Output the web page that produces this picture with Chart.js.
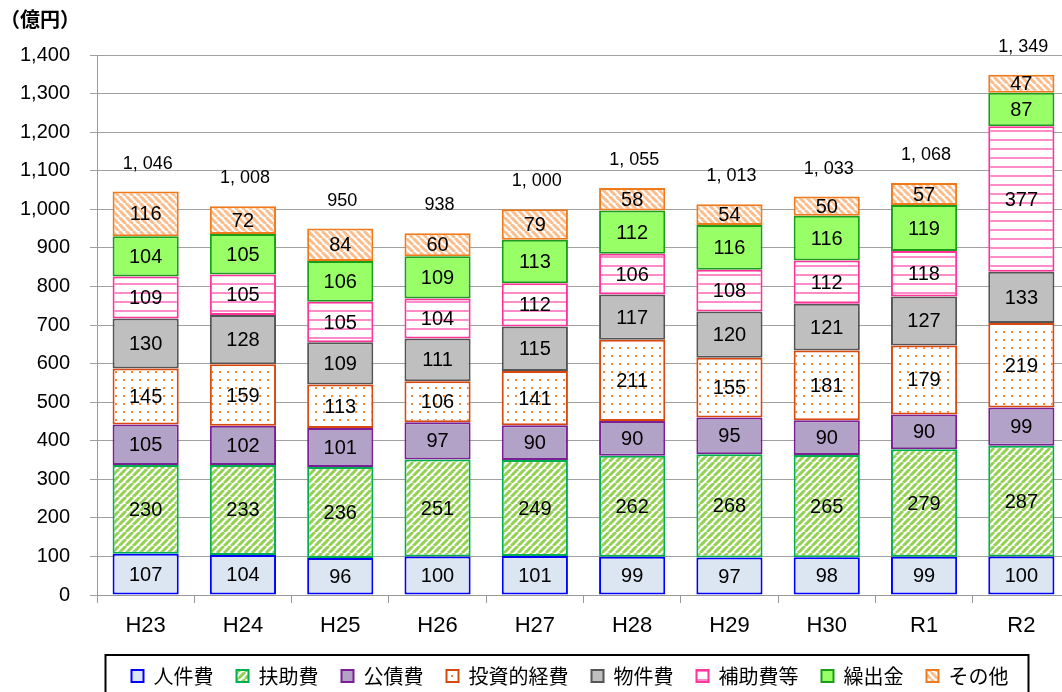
<!DOCTYPE html>
<html>
<head>
<meta charset="utf-8">
<script src="https://cdn.jsdelivr.net/npm/chart.js@4"></script>
<style>
	html, body { margin: 0; padding: 0; background: #fff; overflow: hidden; }
	#wrap { width: 1080px; height: 692px; }
</style>
</head>
<body>
<div id="wrap"><canvas id="chart" width="1080" height="692"></canvas></div>
<script>
const categories = ['H23', 'H24', 'H25', 'H26', 'H27', 'H28', 'H29', 'H30', 'R1', 'R2'];
const personnel = [107, 104, 96, 100, 101, 99, 97, 98, 99, 100];
const assistance = [230, 233, 236, 251, 249, 262, 268, 265, 279, 287];
const debt = [105, 102, 101, 97, 90, 90, 95, 90, 90, 99];
const investment = [145, 159, 113, 106, 141, 211, 155, 181, 179, 219];
const goods = [130, 128, 109, 111, 115, 117, 120, 121, 127, 133];
const subsidies = [109, 105, 105, 104, 112, 106, 108, 112, 118, 377];
const transfers = [104, 105, 106, 109, 113, 112, 116, 116, 119, 87];
const other = [116, 72, 84, 60, 79, 58, 54, 50, 57, 47];
const totals = [1046, 1008, 950, 938, 1000, 1055, 1013, 1033, 1068, 1349];

const canvas = document.getElementById('chart');
const ctx = canvas.getContext('2d');

const makePattern = (w, h, draw) => {
	const c = document.createElement('canvas');
	c.width = w;
	c.height = h;
	const p = c.getContext('2d');
	p.fillStyle = '#fff';
	p.fillRect(0, 0, w, h);
	draw(p, w, h);
	return ctx.createPattern(c, 'repeat');
};

const stripes = (color, dir) => makePattern(7, 7, (p, s) => {
	p.strokeStyle = color;
	p.lineWidth = 3;
	p.beginPath();
	for (let k = -1; k <= 1; k++) {
		if (dir > 0) {
			p.moveTo(k * s, s);
			p.lineTo(k * s + s, 0);
		} else {
			p.moveTo(k * s, 0);
			p.lineTo(k * s + s, s);
		}
	}
	p.stroke();
});

const greenStripes = stripes('#93d152', 1);
const orangeStripes = stripes('#fbbd8c', -1);
const dots = makePattern(8, 8, p => {
	p.fillStyle = '#f28b3a';
	p.fillRect(3, 3, 2, 2);
});
const pinkLines = makePattern(8, 9, p => {
	p.fillStyle = '#ff8cc8';
	p.fillRect(0, 4, 8, 2);
});

const font = '"Liberation Sans", "Noto Sans CJK JP", sans-serif';
const jpFont = '"Noto Sans CJK JP", sans-serif';

const labelPlugin = {
	id: 'labels',
	afterLayout(chart) {
		// let the y tick labels use the left padding instead of being clipped
		const y = chart.scales.y;
		y.left = 0;
		y.width = y.right;
	},
	afterDatasetsDraw(chart) {
		const c = chart.ctx;
		c.save();
		c.fillStyle = '#000';
		c.textAlign = 'center';
		c.textBaseline = 'middle';
		c.font = `20px ${font}`;
		chart.data.datasets.forEach((ds, di) => {
			chart.getDatasetMeta(di).data.forEach((el, i) => {
				c.fillText(ds.data[i], el.x, (el.y + el.base) / 2 + 1);
			});
		});
		const top = chart.getDatasetMeta(chart.data.datasets.length - 1).data;
		c.font = `18px ${font}`;
		top.forEach((el, i) => {
			const txt = totals[i].toLocaleString('en-US').replace(',', ', ');
			c.fillText(txt, el.x + 2, el.y - 28);
		});
		c.restore();
	},
	afterDraw(chart) {
		const c = chart.ctx;
		c.save();
		c.fillStyle = '#000';
		c.font = `bold 20px ${jpFont}`;
		c.textBaseline = 'middle';
		c.textAlign = 'left';
		c.fillText('（億円）', 0, 19);
		const hb = chart.legend.legendHitBoxes;
		if (hb && hb.length) {
			const first = hb[0];
			const last = hb[hb.length - 1];
			const left = first.left - 26;
			const right = last.left + last.width + 20;
			const top = first.top + first.height / 2 - 21;
			c.strokeStyle = '#000';
			c.lineWidth = 2;
			c.strokeRect(left, top, right - left, 80);
		}
		c.restore();
	}
};

const series = [
	{ label: '人件費', data: personnel, backgroundColor: '#dce6f2', borderColor: '#0000ff' },
	{ label: '扶助費', data: assistance, backgroundColor: greenStripes, borderColor: '#00b050' },
	{ label: '公債費', data: debt, backgroundColor: '#b3a2c7', borderColor: '#7b1f94' },
	{ label: '投資的経費', data: investment, backgroundColor: dots, borderColor: '#d9480f' },
	{ label: '物件費', data: goods, backgroundColor: '#bfbfbf', borderColor: '#555' },
	{ label: '補助費等', data: subsidies, backgroundColor: pinkLines, borderColor: '#ff3399' },
	{ label: '繰出金', data: transfers, backgroundColor: '#99ff66', borderColor: '#1a9e1a' },
	{ label: 'その他', data: other, backgroundColor: orangeStripes, borderColor: '#ee7a1c' }
];

const config = {
	type: 'bar',
	data: {
		labels: categories,
		datasets: series.map(s => ({
			...s,
			borderWidth: 2,
			borderSkipped: false,
			barPercentage: 0.68,
			categoryPercentage: 1
		}))
	},
	options: {
		responsive: false,
		animation: false,
		layout: {
			padding: { top: 55, left: 70, right: 10, bottom: -4 }
		},
		plugins: {
			legend: {
				position: 'bottom',
				labels: {
					boxWidth: 12,
					boxHeight: 12,
					padding: 23,
					color: '#000',
					font: { size: 20, family: jpFont }
				}
			},
			tooltip: { enabled: false }
		},
		scales: {
			x: {
				stacked: true,
				afterFit: s => { s.height = 48; },
				grid: {
					drawOnChartArea: false,
					drawTicks: true,
					tickLength: 8,
					color: '#999'
				},
				border: { color: '#999', width: 1 },
				ticks: {
					color: '#000',
					padding: 10,
					font: { size: 22, family: font }
				}
			},
			y: {
				stacked: true,
				min: 0,
				max: 1400,
				afterFit: s => { s.width = 27; },
				grid: {
					color: '#a0a0a0',
					lineWidth: 1,
					tickLength: 7
				},
				border: { color: '#999', width: 1 },
				ticks: {
					stepSize: 100,
					color: '#000',
					padding: 20,
					font: { size: 20, family: font },
					callback: v => v.toLocaleString('en-US')
				}
			}
		}
	},
	plugins: [labelPlugin]
};

new Chart(canvas, config);
</script>
</body>
</html>
